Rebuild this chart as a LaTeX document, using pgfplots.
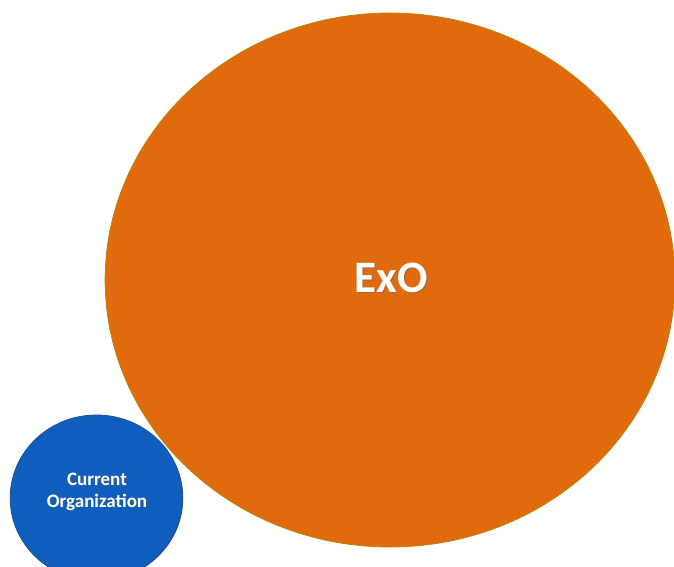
\documentclass[border=0pt]{standalone}
\usepackage{pgfplots}
\pgfplotsset{compat=1.18}
\usepackage{fontspec}
\setmainfont{Carlito}
\definecolor{exoorange}{HTML}{E06A0C}
\definecolor{exoedge}{HTML}{B8860B}
\definecolor{orgblue}{HTML}{0F5EBD}
\definecolor{orgedge}{HTML}{1D4F8F}
\begin{document}
\begin{tikzpicture}
\begin{axis}[
  hide axis,
  scale only axis,
  width=674pt, height=566pt,
  xmin=0, xmax=674,
  ymin=0, ymax=566,
  clip marker paths=true,
]
% ExO bubble (radius in pt, slightly wider than tall)
\addplot[only marks, mark=*, mark size=267pt,
  mark options={xscale=1.067, fill=exoorange, draw=exoedge, line width=0.8pt}]
  coordinates {(390,286)};
% current organization bubble
\addplot[only marks, mark=*, mark size=83pt,
  mark options={xscale=1.04, fill=orgblue, draw=orgedge, line width=0.8pt}]
  coordinates {(96.5,68)};

\node[text=black!60, opacity=0.5, font=\bfseries\fontsize{45}{50}\selectfont]
  at ([xshift=1pt,yshift=-1.2pt]axis cs:391,288) {ExO};
\node[text=white, font=\bfseries\fontsize{45}{50}\selectfont]
  at (axis cs:391,288) {ExO};
\node[text=black!60, opacity=0.5, align=center, font=\bfseries\fontsize{19}{21.5}\selectfont]
  at ([xshift=0.6pt,yshift=-0.6pt]axis cs:97,74) {Current\\Organization};
\node[text=white, align=center, font=\bfseries\fontsize{19}{21.5}\selectfont]
  at (axis cs:97,74) {Current\\Organization};
\end{axis}
\pgfresetboundingbox
\path[use as bounding box] (0,0) rectangle (674pt,566pt);
\end{tikzpicture}
\end{document}
